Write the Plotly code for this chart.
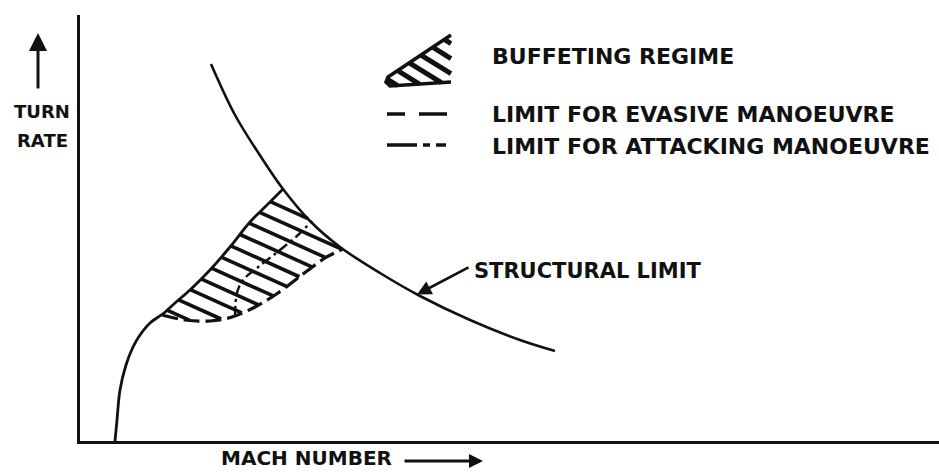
import plotly.graph_objects as go

# ---------------- data (schematic, arbitrary units) ----------------
# structural limit curve (Mach number, turn rate)
struct_mach = [1.31, 1.55, 1.83, 2.03, 2.30, 2.60, 3.00, 3.40, 3.90, 4.40, 4.75]
struct_rate = [3.77, 3.26, 2.81, 2.52, 2.20, 1.94, 1.68, 1.45, 1.21, 1.01, 0.90]

# lift-limit curve (solid), rising from the Mach axis to the structural limit
lift_mach = [0.35, 0.37, 0.40, 0.46, 0.53, 0.60, 0.70, 0.84, 0.95, 1.10, 1.30, 1.50, 1.70, 1.87, 2.03]
lift_rate = [0.00, 0.21, 0.51, 0.76, 0.94, 1.06, 1.18, 1.28, 1.38, 1.51, 1.71, 1.94, 2.19, 2.36, 2.52]

# limit for evasive manoeuvre (dashed, lower edge of buffeting regime)
evasive_mach = [0.82, 1.05, 1.30, 1.52, 1.75, 1.98, 2.27, 2.45, 2.63]
evasive_rate = [1.26, 1.21, 1.20, 1.24, 1.34, 1.48, 1.70, 1.83, 1.92]

# limit for attacking manoeuvre (dash-dot, inside buffeting regime)
attack_mach = [1.55, 1.57, 1.63, 1.77, 2.00, 2.18, 2.32]
attack_rate = [1.25, 1.48, 1.61, 1.73, 1.91, 2.06, 2.20]

legend_labels = ["BUFFETING REGIME", "LIMIT FOR EVASIVE MANOEUVRE", "LIMIT FOR ATTACKING MANOEUVRE"]
x_title = "MACH NUMBER"
y_title_lines = ["TURN", "RATE"]
curve_label = "STRUCTURAL LIMIT"

INK = "#111111"
FONT = "DejaVu Sans"

W, H = 939, 472
ML, MR, MT, MB = 80, 0, 15, 31
PW, PH = W - ML - MR, H - MT - MB


def px_to_paper(px, py):
    return (px - ML) / PW, (H - MB - py) / PH


def clip_hatch(poly_x, poly_y, m, c_values):
    """Clip the family of lines y = c + m*x to a polygon; return segment lists."""
    n = len(poly_x)
    segs = []
    for c in c_values:
        xs = []
        for i in range(n):
            x1, y1 = poly_x[i], poly_y[i]
            x2, y2 = poly_x[(i + 1) % n], poly_y[(i + 1) % n]
            f1 = y1 - m * x1 - c
            f2 = y2 - m * x2 - c
            if (f1 > 0) != (f2 > 0):
                t = f1 / (f1 - f2)
                xs.append(x1 + t * (x2 - x1))
        xs.sort()
        for a, b in zip(xs[0::2], xs[1::2]):
            segs.append((a, c + m * a, b, c + m * b))
    return segs


# buffeting regime polygon built from the boundary curves
poly_x = [x for x in lift_mach if x >= evasive_mach[0]]
poly_y = [y for x, y in zip(lift_mach, lift_rate) if x >= evasive_mach[0]]
for x, y in zip(struct_mach, struct_rate):
    if lift_mach[-1] < x < evasive_mach[-1]:
        poly_x.append(x)
        poly_y.append(y)
poly_x += evasive_mach[::-1]
poly_y += evasive_rate[::-1]

hatch_slope = -0.45
hatch_c = [1.70 + 0.155 * i for i in range(11)]
hx, hy = [], []
for a, ya, b, yb in clip_hatch(poly_x, poly_y, hatch_slope, hatch_c):
    hx += [a, b, None]
    hy += [ya, yb, None]

fig = go.Figure()

fig.add_trace(go.Scatter(x=hx, y=hy, mode="lines", line=dict(color=INK, width=3.6),
                         hoverinfo="skip", showlegend=False))
fig.add_trace(go.Scatter(x=struct_mach, y=struct_rate, mode="lines",
                         line=dict(color=INK, width=2.6, shape="spline"), showlegend=False))
fig.add_trace(go.Scatter(x=lift_mach, y=lift_rate, mode="lines",
                         line=dict(color=INK, width=2.8, shape="spline"), showlegend=False))
fig.add_trace(go.Scatter(x=evasive_mach, y=evasive_rate, mode="lines",
                         line=dict(color=INK, width=3.2, shape="spline", dash="16px,6px"),
                         showlegend=False))
fig.add_trace(go.Scatter(x=attack_mach, y=attack_rate, mode="lines",
                         line=dict(color=INK, width=2.4, shape="spline", dash="10px,4px,3px,4px"),
                         showlegend=False))

shapes = []
annotations = []

# ---- legend (drawn by hand, pixel layout converted to paper coordinates) ----
wedge_px = [(451, 35), (388, 77), (386, 82), (390, 86), (451, 82)]
wx = [p[0] for p in wedge_px]
wy = [p[1] for p in wedge_px]
path = "M " + " L ".join("%.4f %.4f" % px_to_paper(x, y) for x, y in wedge_px)
shapes.append(dict(type="path", xref="paper", yref="paper", path=path,
                   line=dict(color=INK, width=3.5)))
for a, ya, b, yb in clip_hatch(wx, wy, 0.62, [-236 + 15 * i for i in range(6)]):
    x0, y0 = px_to_paper(a, ya)
    x1, y1 = px_to_paper(b, yb)
    shapes.append(dict(type="line", xref="paper", yref="paper", x0=x0, y0=y0, x1=x1, y1=y1,
                       line=dict(color=INK, width=5)))

for ypx, dash in [(114, "18px,14px,30px"), (145, "30px,6px,7px,6px,10px,20px")]:
    x0, y0 = px_to_paper(387, ypx)
    x1, y1 = px_to_paper(447, ypx)
    shapes.append(dict(type="line", xref="paper", yref="paper", x0=x0, y0=y0, x1=x1, y1=y1,
                       line=dict(color=INK, width=3.5, dash=dash)))

for label, ypx in zip(legend_labels, [57, 115, 146]):
    x, y = px_to_paper(490, ypx)
    annotations.append(dict(xref="paper", yref="paper", x=x, y=y, xanchor="left", yanchor="middle",
                            text="<b>%s</b>" % label, showarrow=False,
                            font=dict(family=FONT, size=22, color=INK)))

# ---- structural limit label and pointer ----
x, y = px_to_paper(472, 271)
annotations.append(dict(xref="paper", yref="paper", x=x, y=y, xanchor="left", yanchor="middle",
                        text="<b>%s</b>" % curve_label, showarrow=False,
                        font=dict(family=FONT, size=21, color=INK)))
annotations.append(dict(x=struct_mach[7] - 0.03, y=1.465, xref="x", yref="y", text="",
                        showarrow=True, arrowhead=2, arrowsize=1.1, arrowwidth=2.6,
                        arrowcolor=INK, ax=53, ay=-28))

# ---- axis titles with arrows ----
for line, ypx in zip(y_title_lines, [111, 140]):
    x, y = px_to_paper(42, ypx)
    annotations.append(dict(xref="paper", yref="paper", x=x, y=y, xanchor="center", yanchor="middle",
                            text="<b>%s</b>" % line, showarrow=False,
                            font=dict(family=FONT, size=18, color=INK)))
x, y = px_to_paper(38, 33)
annotations.append(dict(xref="paper", yref="paper", x=x, y=y, text="", showarrow=True,
                        arrowhead=2, arrowsize=1.2, arrowwidth=3, arrowcolor=INK, ax=0, ay=57))

x, y = px_to_paper(306, 471)
annotations.append(dict(xref="paper", yref="paper", x=x, y=y, xanchor="center", yanchor="bottom",
                        text="<b>%s</b>" % x_title, showarrow=False, borderpad=0,
                        font=dict(family=FONT, size=20, color=INK)))
x, y = px_to_paper(483, 461)
annotations.append(dict(xref="paper", yref="paper", x=x, y=y, text="", showarrow=True,
                        arrowhead=2, arrowsize=1.0, arrowwidth=2.8, arrowcolor=INK, ax=-80, ay=0))

fig.update_layout(
    width=W, height=H,
    margin=dict(l=ML, r=MR, t=MT, b=MB, pad=0),
    paper_bgcolor="white", plot_bgcolor="white",
    showlegend=False,
    shapes=shapes, annotations=annotations,
    xaxis=dict(range=[0, PW / 100], showline=True, linewidth=3, linecolor=INK, showgrid=False,
               zeroline=False, showticklabels=False, ticks="", fixedrange=True),
    yaxis=dict(range=[0, PH / 100], showline=True, linewidth=3, linecolor=INK, showgrid=False,
               zeroline=False, showticklabels=False, ticks="", fixedrange=True),
)

fig.write_html("out.html", config={"displayModeBar": False},
               post_script="document.body.style.margin='0';document.body.style.overflow='hidden';")
